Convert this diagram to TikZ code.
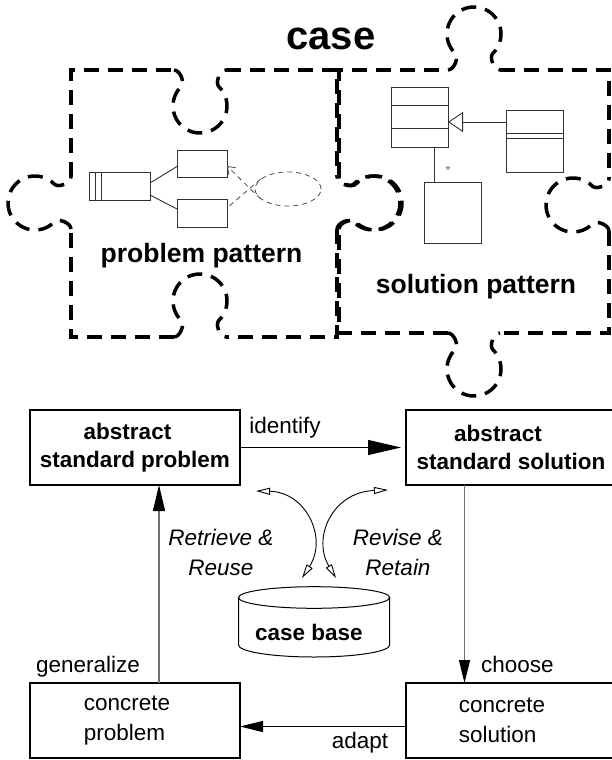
\documentclass[tikz,border=0pt]{standalone}
\usepackage{fontspec}
\setmainfont{Liberation Sans}
\usetikzlibrary{arrows.meta,shapes.geometric}

\newcommand\txtsize[2]{\fontsize{#1}{#2}\selectfont}

% one jigsaw knob: #1 centre on the edge, #2 unit vector along the edge,
% #3 unit vector pointing into the knob (both in canvas coordinates)
\newcommand\puztab[3]{%
  \begin{scope}[shift={#1}, x={#2}, y={#3}]
    \draw[puz] (-26,0) .. controls (-20,0) and (-14.7,12.6) .. (-19,16.8)
      -- plot[domain=0:270.6, samples=60] ({27*cos(-134.7-\x)}, {36+27*sin(-134.7-\x)})
      .. controls (14.7,12.6) and (20,0) .. (26,0);
  \end{scope}}

\tikzset{
  puz/.style={line width=3.5pt, dash pattern=on 15pt off 9pt},
  uml/.style={draw=black!80, line width=0.9pt},
  umlbox/.style={uml, rectangle, inner sep=0pt, outer sep=0pt},
  umldash/.style={draw=black!70, line width=0.8pt, dash pattern=on 5pt off 4pt},
  stdbox/.style={draw, line width=1.5pt, inner sep=0pt, outer sep=0pt,
    minimum width=210pt, minimum height=75pt, align=center},
  boldtxt/.style={font=\txtsize{22.5}{28}\bfseries},
  plaintxt/.style={font=\txtsize{22.5}{30}},
  lbl/.style={inner sep=0pt, font=\txtsize{22.5}{30}},
  itlbl/.style={inner sep=0pt, font=\txtsize{22.5}{30}\itshape, align=center},
  flowk/.style={draw=black, line width=1.2pt},
  flowg/.style={draw=black!55, line width=1.2pt},
  curv/.style={draw=black, line width=0.9pt,
    {Triangle[open,length=14pt,width=7pt]}-{Triangle[open,length=14pt,width=7pt]}},
}

\begin{document}
\begin{tikzpicture}[x=1pt,y=-1pt]
\useasboundingbox (0,0) rectangle (611,760);

% ---------- the case: two interlocking pieces ----------
\node[font=\txtsize{40}{40}\bfseries, anchor=base, inner sep=0pt] (title) at (331,50) {case};

% problem piece
\draw[puz] (226,70) -- (337,70) -- (337,177);
\draw[puz] (337,229) -- (337,337) -- (226,337);
\draw[puz] (174,337) -- (71,337) -- (71,229);
\draw[puz] (71,177) -- (71,70) -- (174,70);
\puztab{(200,70)}{(1pt,0pt)}{(0pt,-1pt)}
\puztab{(200,337)}{(1pt,0pt)}{(0pt,1pt)}
\puztab{(71,203)}{(0pt,1pt)}{(-1pt,0pt)}
\puztab{(337,203)}{(0pt,1pt)}{(1pt,0pt)}

% solution piece
\draw[puz] (500,70) -- (609,70) -- (609,179);
\draw[puz] (609,231) -- (609,333) -- (500,333);
\draw[puz] (448,333) -- (339,333) -- (339,229);
\draw[puz] (339,177) -- (339,70) -- (448,70);
\puztab{(339,203)}{(0pt,1pt)}{(1pt,0pt)}
\puztab{(474,70)}{(1pt,0pt)}{(0pt,1pt)}
\puztab{(474,333)}{(1pt,0pt)}{(0pt,-1pt)}
\puztab{(609,205)}{(0pt,1pt)}{(-1pt,0pt)}

\node[font=\txtsize{26.5}{30}\bfseries, anchor=base, inner sep=0pt] (ppl) at (201.5,262) {problem pattern};
\node[font=\txtsize{26.5}{30}\bfseries, anchor=base, inner sep=0pt] (spl) at (476,293) {solution pattern};

% problem pattern sketch
\node[umlbox, minimum width=61pt, minimum height=28pt] (actor) at (119.5,186) {};
\draw[uml] ([xshift=6pt]actor.north west) -- ([xshift=6pt]actor.south west);
\draw[uml] ([xshift=12pt]actor.north west) -- ([xshift=12pt]actor.south west);
\node[umlbox, minimum width=50pt, minimum height=27pt] (tb) at (202,163.5) {};
\node[umlbox, minimum width=50pt, minimum height=28pt] (bb) at (202,213) {};
\draw[uml] ([yshift=3pt]actor.east) -- ([yshift=-3pt]tb.west);
\draw[uml] ([yshift=-9pt]actor.east) -- ([yshift=4pt]bb.west);
\node[ellipse, umldash, minimum width=66pt, minimum height=34pt, inner sep=0pt] (uc) at (288,189) {};
\draw[umldash, -{Straight Barb[length=7pt,width=10pt]}] (uc.200) -- ([yshift=-2.5pt]tb.east);
\draw[umldash] (uc.160) -- ([yshift=5pt]bb.east);

% solution pattern sketch
\node[umlbox, minimum width=57pt, minimum height=60pt] (c1) at (419.5,117) {};
\draw[uml] ([yshift=-18pt]c1.north west) -- ([yshift=-18pt]c1.north east);
\draw[uml] ([yshift=-41pt]c1.north west) -- ([yshift=-41pt]c1.north east);
\node[umlbox, minimum width=57pt, minimum height=62pt] (c2) at (534.5,141) {};
\draw[uml] ([yshift=-23pt]c2.north west) -- ([yshift=-23pt]c2.north east);
\draw[uml] ([yshift=-28pt]c2.north west) -- ([yshift=-28pt]c2.north east);
\node[umlbox, minimum width=57pt, minimum height=61pt] (c3) at (452.5,212.5) {};
\draw[uml, -{Triangle[open,length=15pt,width=20pt]}] ([yshift=19pt]c2.west) -- ([yshift=-5pt]c1.east);
\draw[uml] ([xshift=14.5pt]c1.south) -- ([xshift=-18.5pt]c3.north);
\node[text=black!50, font=\txtsize{14}{14}, inner sep=0pt] (mult) at (448,171) {*};

% ---------- process cycle ----------
\node[stdbox, boldtxt] (asp) at (135,447.5) {abstract\hspace*{15pt}\\standard problem};
\node[stdbox, boldtxt] (ass) at (511,447.5) {abstract\hspace*{26pt}\\standard solution};
\node[stdbox, plaintxt, align=left] (cp) at (135,720.5) {concrete\hspace*{16pt}\\problem};
\node[stdbox, plaintxt, align=left] (cs) at (511,720.5) {concrete\hspace*{18pt}\\solution};

\draw[flowk, -{Triangle[length=33pt,width=15pt]}, shorten >=5pt] (asp.east) -- (ass.west);
\draw[flowg, -{Triangle[length=26pt,width=12pt,color=black]}] ([xshift=24pt]cp.north) -- ([xshift=24pt]asp.south);
\draw[flowg, -{Triangle[length=23pt,width=11pt,color=black]}] ([xshift=-46.5pt]ass.south) -- ([xshift=-46.5pt]cs.north);
\draw[flowk, -{Triangle[length=23pt,width=11pt]}] ([yshift=-6pt]cs.west) -- ([yshift=-6pt]cp.east);

\node[lbl, anchor=base] (lid) at (285,433) {identify};
\node[lbl, anchor=base west] (lgen) at (36,672) {generalize};
\node[lbl, anchor=base west] (lch) at (481,672) {choose};
\node[lbl, anchor=base] (lad) at (360,748) {adapt};
\node[itlbl] (lrr) at (221,552) {Retrieve \&\\Reuse};
\node[itlbl] (lrv) at (398,552) {Revise \&\\Retain};

% case base
\draw[line width=1pt] (238.5,597.5) -- (238.5,645)
  arc[start angle=180, end angle=360, x radius=75.6pt, y radius=12pt] -- (389.7,597.5);
\draw[line width=1pt] (314.1,597.5) ellipse [x radius=75.6pt, y radius=10.8pt];
\node[font=\txtsize{22.5}{28}\bfseries, anchor=base, inner sep=0pt] (cbase) at (309,640) {case base};

\coordinate (rA) at (256,491);
\coordinate (rB) at (302,578);
\coordinate (vA) at (388,490);
\coordinate (vB) at (336,578);
\draw[curv] (rA) .. controls (306,492) and (328,538) .. (rB);
\draw[curv] (vA) .. controls (332,492) and (312,538) .. (vB);
\end{tikzpicture}
\end{document}
